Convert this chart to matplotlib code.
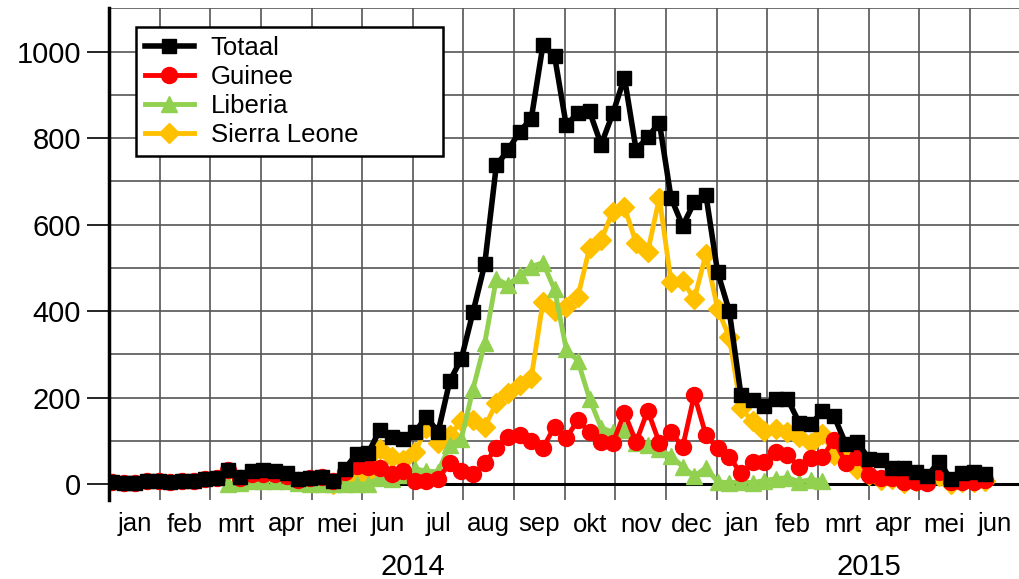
import numpy as np
import matplotlib
matplotlib.use("Agg")
import matplotlib.pyplot as plt
import matplotlib.transforms as mtransforms

nan = np.nan

# weekly case counts, 2014 week 1 .. 2015 week 24
totaal = [5, 2, 2, 6, 6, 5, 7, 8, 12, 15,
          32, 17, 30, 32, 30, 25, 12, 15, 16, 6,
          35, 70, 72, 125, 108, 105, 120, 155, 120, 238,
          290, 398, 508, 737, 772, 815, 845, 1015, 990, 830,
          858, 862, 785, 857, 940, 773, 802, 836, 662, 597,
          652, 668, 490, 400, 207, 195, 180, 197, 197, 142,
          138, 168, 157, 93, 96, 58, 55, 38, 36, 28,
          18, 52, 12, 26, 27, 24]
guinee = [5, 2, 2, 6, 6, 5, 7, 8, 12, 15,
          32, 14, 22, 24, 22, 19, 10, 15, 16, 6,
          28, 42, 40, 38, 22, 30, 8, 8, 12, 48,
          30, 22, 48, 83, 109, 113, 100, 83, 133, 106,
          148, 120, 97, 95, 164, 97, 170, 95, 120, 86,
          206, 113, 83, 63, 25, 50, 51, 74, 67, 40,
          60, 63, 102, 49, 63, 21, 14, 14, 5, 5,
          2, 28, 5, 5, 5, 9]
liberia = [nan, nan, nan, nan, nan, nan, nan, nan, nan, nan,
           0, 3, 8, 8, 8, 6, 2, 0, 0, 0,
           0, 0, 0, 15, 12, 20, 35, 30, 28, 90,
           105, 220, 325, 475, 460, 483, 503, 512, 450, 312,
           285, 197, 130, 120, 125, 95, 90, 80, 65, 40,
           18, 38, 5, 3, 5, 3, 8, 12, 15, 5,
           10, 8, nan, nan, nan, nan, nan, nan, nan, nan,
           nan, nan, nan, nan, nan, nan]
sierra_leone = [nan, nan, nan, nan, nan, nan, nan, nan, nan, nan,
                nan, nan, nan, nan, nan, nan, nan, nan, nan, 0,
                5, 14, 25, 80, 63, 56, 74, 130, 95, 113,
                145, 147, 132, 187, 210, 229, 246, 421, 400, 410,
                433, 546, 565, 630, 640, 558, 537, 662, 468, 470,
                428, 532, 405, 340, 175, 145, 122, 128, 120, 108,
                95, 115, 68, 58, 35, 20, 10, 12, 3, 8,
                6, 18, 0, 5, 5, 6]

maanden = ["jan", "feb", "mrt", "apr", "mei", "jun", "jul", "aug", "sep",
           "okt", "nov", "dec", "jan", "feb", "mrt", "apr", "mei", "jun"]
jaren = ["2014", "2015"]

plt.rcParams["font.family"] = ["Liberation Sans", "DejaVu Sans"]

# x in months since 1 jan 2014
week = np.arange(len(totaal))
x = (week + 0.26) * 12 / 52.18

fig = plt.figure(figsize=(10.19, 5.79), dpi=100)
ax = fig.add_axes([109 / 1019, 1 - 500 / 579, 1 - 109 / 1019, 492 / 579])

ax.set_xlim(0, 17.97)
ax.set_ylim(-37, 1101)

# grid
for m in range(0, 19):
    ax.axvline(m, color="#555555", lw=1.2, zorder=1)
for v in range(0, 1200, 100):
    ax.axhline(v, color="#555555", lw=1.2, zorder=1)
ax.axhline(0, color="black", lw=2.2, zorder=2)

sl, = ax.plot(x, sierra_leone, color="#FFC000", lw=3.5, marker="D", ms=10.5,
              label="Sierra Leone", zorder=3)
lib, = ax.plot(x, liberia, color="#92D050", lw=3.5, marker="^", ms=11.5,
               label="Liberia", zorder=4)
gui, = ax.plot(x, guinee, color="#FF0000", lw=3.5, marker="o", ms=11.5,
               label="Guinee", zorder=5)
tot, = ax.plot(x, totaal, color="black", lw=4, marker="s", ms=10,
               label="Totaal", zorder=6)

for s in ["top", "right", "bottom"]:
    ax.spines[s].set_visible(False)
ax.spines["left"].set_linewidth(2.5)
ax.spines["left"].set_zorder(7)

ax.set_yticks(range(0, 1001, 200))
ax.tick_params(axis="y", length=16, width=1.2, pad=4, labelsize=21)

ax.set_xticks(np.arange(len(maanden)) + 0.5)
ax.set_xticklabels(maanden)
ax.tick_params(axis="x", length=0, pad=9, labelsize=18.5)

trans = mtransforms.blended_transform_factory(ax.transData, fig.transFigure)
ax.text(6, 1 - 567 / 579, jaren[0], transform=trans, ha="center", va="center", fontsize=21)
ax.text(15, 1 - 567 / 579, jaren[1], transform=trans, ha="center", va="center", fontsize=21)

# legend box: x 136..443 px, top at y 27 px
leg = ax.legend(handles=[tot, gui, lib, sl], loc="upper left",
                bbox_to_anchor=(27 / 910, 1 - 19 / 492, 307 / 910, 0.0),
                mode="expand", borderaxespad=0,
                fontsize=18.5, handlelength=1.9, handletextpad=0.65,
                labelspacing=0.2, fancybox=False, framealpha=1,
                borderpad=0.35)
leg.get_frame().set_edgecolor("black")
leg.get_frame().set_linewidth(1.8)
leg.set_zorder(10)

fig.savefig("out.png", dpi=100)
